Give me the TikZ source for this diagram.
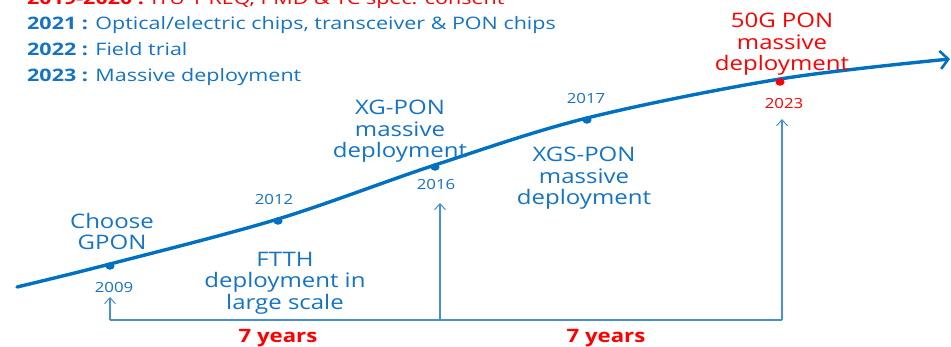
\documentclass[tikz,border=0pt]{standalone}
\usepackage{fontspec}
\setmainfont{Open Sans}[FakeStretch=1.2]
\newfontfamily\hdrfont{Open Sans}[FakeStretch=1.25]
\usetikzlibrary{arrows.meta,shapes.geometric}
\definecolor{curveblue}{RGB}{0,112,192}
\definecolor{textblue}{RGB}{20,115,195}
\definecolor{lineblue}{RGB}{70,145,210}
\definecolor{hotred}{RGB}{255,0,0}
\tikzset{
  lbl/.style={text=textblue, align=center, inner sep=0pt, anchor=north,
    font=\fontsize{20}{21.5}\selectfont},
  redlbl/.style={lbl, text=hotred},
  yr/.style={text=textblue, inner sep=0pt, anchor=base, font=\fontsize{14}{16}\selectfont},
  redyr/.style={yr, text=hotred},
  hdr/.style={text=textblue, inner sep=0pt, anchor=base west, font=\hdrfont\fontsize{17.2}{19}\selectfont},
  span/.style={text=hotred, inner sep=0pt, anchor=base, font=\fontsize{18.5}{21}\selectfont\bfseries},
  dot/.style={ellipse, fill=curveblue, inner sep=0pt, minimum width=9pt, minimum height=7.5pt},
  reddot/.style={dot, fill=hotred},
  curve/.style={curveblue, line width=3.4pt, line cap=round,
    -{Straight Barb[length=8pt,width=18pt,line width=2.6pt]}},
  guide/.style={lineblue, line width=1.1pt},
  guidearrow/.style={guide, -{Straight Barb[length=6pt,width=11pt,line width=1pt]}}
}
\begin{document}
\begin{tikzpicture}[x=1pt,y=-1pt]
\useasboundingbox (0,0) rectangle (951,346);

% milestone list at the top left
\node[hdr, text=hotred] (h19) at (27,4) {\textbf{2019-2020 :} ITU-T REQ, PMD \& TC spec. consent};
\node[hdr] (h21) at (27,29) {\textbf{2021 :} Optical/electric chips, transceiver \& PON chips};
\node[hdr] (h22) at (27,55) {\textbf{2022 :} Field trial};
\node[hdr] (h23) at (27,81) {\textbf{2023 :} Massive deployment};

% evolution curve
\draw[curve] plot[smooth, tension=0.55] coordinates
  {(17,287) (110,264) (278,219) (435,165) (587,118) (780,79) (950,59)};

% milestones on the curve
\node[dot] (d09) at (110,266) {};
\node[dot] (d12) at (278,221) {};
\node[dot] (d16) at (435,167) {};
\node[dot] (d17) at (587,120) {};
\node[reddot] (d23) at (780,82) {};

% year labels
\node[yr] (y09) at (114,292) {2009};
\node[yr] (y12) at (274,204) {2012};
\node[yr] (y16) at (436,189) {2016};
\node[yr] (y17) at (586,103) {2017};
\node[redyr] (y23) at (784,108) {2023};

% milestone descriptions
\node[lbl] (lgpon) at (112,213) {Choose\\GPON};
\node[lbl] (lftth) at (285,252) {FTTH\\deployment in\\large scale};
\node[lbl] (lxg) at (400,100) {XG-PON\\massive\\deployment};
\node[lbl] (lxgs) at (584,147) {XGS-PON\\massive\\deployment};
\node[redlbl] (l50g) at (782,13) {50G PON\\massive\\deployment};

% time spans
\coordinate (b09) at (110,320);
\coordinate (b16) at (440,320);
\coordinate (b23) at (782,320);
\coordinate (t09) at (110,297);
\coordinate (t16) at (440,203);
\coordinate (t23) at (782,119);
\draw[guide] (b09) -- (b16) -- (b23);
\draw[guidearrow] (b09) -- (t09);
\draw[guidearrow] (b16) -- (t16);
\draw[guidearrow] (b23) -- (t23);
\node[span] (s1) at (278,342) {7 years};
\node[span] (s2) at (606,342) {7 years};
\end{tikzpicture}
\end{document}
